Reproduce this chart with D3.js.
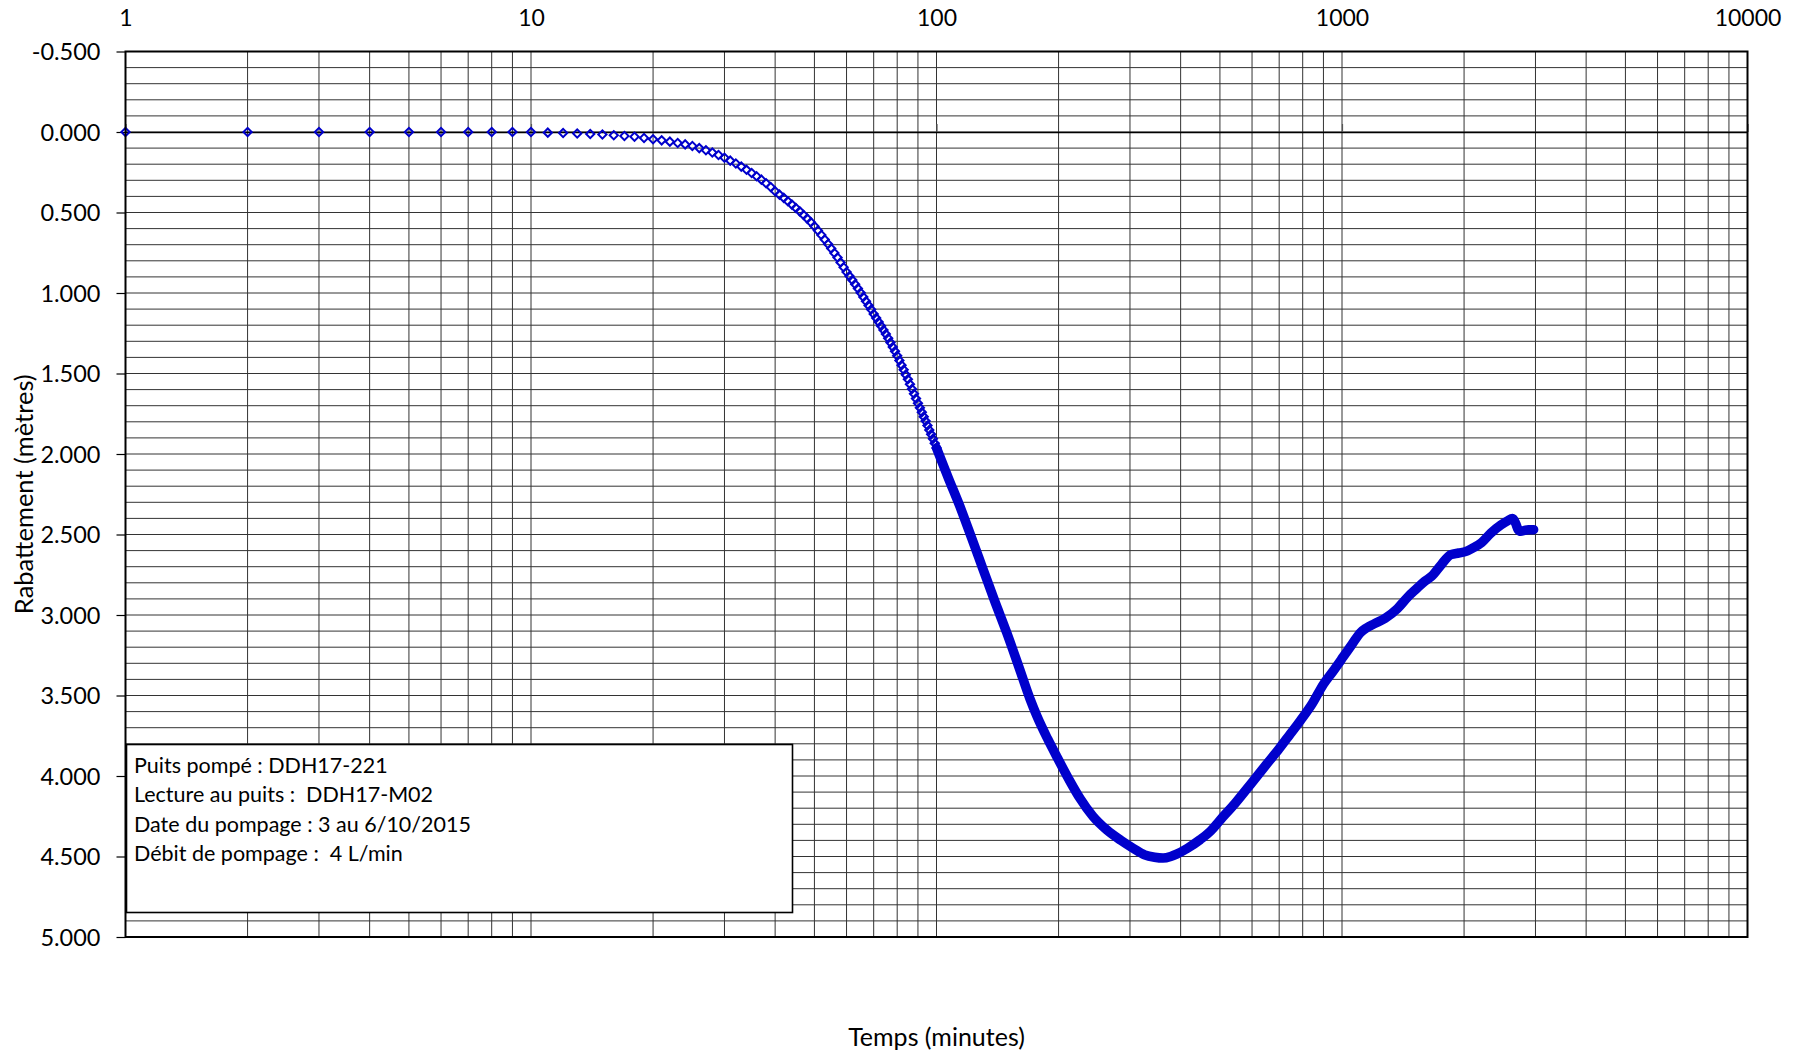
<!DOCTYPE html>
<html>
<head>
<meta charset="utf-8">
<script src="https://cdn.jsdelivr.net/npm/d3@7"></script>
<style>
  html, body { margin: 0; padding: 0; background: #fff; }
  svg { display: block; font-family: "Lato", "Liberation Sans", sans-serif; }
  .pre { white-space: pre; }
</style>
</head>
<body>
<svg id="chart" width="1805" height="1055"></svg>
<script>
// ---- Data ----
// Early readings, one per minute (distinct markers)
const times = [1,2,3,4,5,6,7,8,9,10,11,12,13,14,15,16,17,18,19,20,
  21,22,23,24,25,26,27,28,29,30,31,32,33,34,35,36,37,38,39,40,
  41,42,43,44,45,46,47,48,49,50,51,52,53,54,55,56,57,58,59,60,
  61,62,63,64,65,66,67,68,69,70,71,72,73,74,75,76,77,78,79,80,
  81,82,83,84,85,86,87,88,89,90,91,92,93,94,95,96,97,98,99,100];
const drawdown = [0,0,0,0,0,0,0,0,0,0,
  0.004,0.006,0.009,0.012,0.016,0.020,0.025,0.030,0.037,0.045,
  0.052,0.060,0.068,0.077,0.087,0.100,0.113,0.127,0.143,0.160,
  0.178,0.196,0.215,0.235,0.255,0.275,0.296,0.318,0.342,0.368,
  0.389,0.409,0.430,0.451,0.472,0.493,0.515,0.538,0.561,0.585,
  0.612,0.640,0.668,0.696,0.724,0.752,0.780,0.810,0.840,0.870,
  0.895,0.920,0.946,0.972,0.998,1.025,1.051,1.077,1.103,1.130,
  1.155,1.180,1.205,1.230,1.255,1.281,1.308,1.335,1.362,1.390,
  1.419,1.448,1.477,1.507,1.536,1.566,1.596,1.626,1.656,1.685,
  1.713,1.740,1.768,1.795,1.823,1.851,1.878,1.906,1.934,1.962];
// Later readings, where the markers merge into a continuous band
const bandTimes = [100,107,114,122,130,139,149,160,170,177,188,198,212,226,243,263,285,306,326,345,
  362,378,391,415,447,475,500,545,600,650,700,745,790,845,900,950,1007,1060,1110,1150,
  1200,1278,1370,1457,1522,1600,1663,1760,1855,1940,2024,2100,2209,2330,2467,2560,2634,2680,2720,2760,
  2820,2880,2969];
const bandDrawdown = [1.962,2.15,2.32,2.52,2.71,2.91,3.11,3.33,3.52,3.63,3.77,3.88,4.02,4.14,4.25,4.335,4.40,4.45,4.49,4.505,
  4.51,4.50,4.485,4.45,4.395,4.34,4.275,4.17,4.04,3.93,3.83,3.74,3.655,3.55,3.43,3.35,3.26,3.18,3.11,3.08,
  3.055,3.02,2.96,2.885,2.84,2.79,2.76,2.685,2.625,2.615,2.605,2.585,2.55,2.49,2.44,2.415,2.40,2.43,2.47,2.48,
  2.475,2.47,2.47];

const xTickValues = [1, 10, 100, 1000, 10000];
const yTickValues = [-0.5, 0, 0.5, 1, 1.5, 2, 2.5, 3, 3.5, 4, 4.5, 5];
const infoLines = [
  "Puits pompé : DDH17-221",
  "Lecture au puits :  DDH17-M02",
  "Date du pompage : 3 au 6/10/2015",
  "Débit de pompage :  4 L/min"
];
const xTitle = "Temps (minutes)";
const yTitle = "Rabattement (mètres)";

// ---- Layout ----
const L = 125.5, R = 1747.5, T = 51.5, B = 937;
const blue = "#0000cc";

const svg = d3.select("#chart");
const x = d3.scaleLog().domain([1, 10000]).range([L, R]);
const y = d3.scaleLinear().domain([-0.5, 5]).range([T, B]);

// Grid
const grid = svg.append("g");
const hVals = d3.range(-4, 50).map(i => i / 10);
grid.selectAll("line.h").data(hVals).join("line")
  .attr("x1", L).attr("x2", R)
  .attr("y1", d => y(d)).attr("y2", d => y(d))
  .attr("stroke", "#333").attr("stroke-width", 1);
const vVals = [];
[1, 10, 100, 1000].forEach(k => { for (let m = 2; m <= 10; m++) if (m * k < 10000) vVals.push(m * k); });
grid.selectAll("line.v").data(vVals).join("line")
  .attr("y1", T).attr("y2", B)
  .attr("x1", d => x(d)).attr("x2", d => x(d))
  .attr("stroke", "#333").attr("stroke-width", 1);

// X axis line at 0 with upward ticks
const xAxisLine = svg.append("g").attr("transform", `translate(0,${y(0)})`)
  .call(d3.axisTop(x).tickValues(xTickValues).tickSize(8).tickFormat("").tickSizeOuter(0));
xAxisLine.select(".domain").attr("stroke", "#000").attr("stroke-width", 1.4);
xAxisLine.selectAll(".tick line").attr("stroke", "#555").attr("stroke-width", 1.2);

// X tick labels on top
const xLab = svg.append("g").attr("transform", `translate(0,${T})`)
  .call(d3.axisTop(x).tickValues(xTickValues).tickSize(0).tickPadding(26).tickFormat(d3.format("d")));
xLab.select(".domain").remove();
xLab.selectAll("text").attr("font-size", 23).attr("fill", "#000").attr("font-family", "Lato");

// Y axis
const yAx = svg.append("g").attr("transform", `translate(${L},0)`)
  .call(d3.axisLeft(y).tickValues(yTickValues).tickSize(9).tickPadding(16)
    .tickFormat(d => d3.format(".3f")(d).replace("−", "-")));
yAx.select(".domain").remove();
yAx.selectAll(".tick line").attr("stroke", "#000").attr("stroke-width", 1.2);
yAx.selectAll("text").attr("font-size", 23.5).attr("fill", "#000").attr("dy", "0.36em").attr("font-family", "Lato");

// Data: merged band
const line = d3.line().x(d => x(d[0])).y(d => y(d[1])).curve(d3.curveMonotoneX);
svg.append("path")
  .datum(bandTimes.map((t, i) => [t, bandDrawdown[i]]))
  .attr("d", line)
  .attr("fill", "none").attr("stroke", blue).attr("stroke-width", 9.5)
  .attr("stroke-linejoin", "round").attr("stroke-linecap", "round");

// Data: markers
const diamond = d3.symbol().type(d3.symbolSquare).size(34);
svg.append("g").selectAll("path").data(times.map((t, i) => [t, drawdown[i]])).join("path")
  .attr("d", diamond)
  .attr("transform", d => `translate(${x(d[0])},${y(d[1])}) rotate(45)`)
  .attr("fill", "none").attr("stroke", blue).attr("stroke-width", 2);

// Plot border
svg.append("rect").attr("x", L).attr("y", T).attr("width", R - L).attr("height", B - T)
  .attr("fill", "none").attr("stroke", "#000").attr("stroke-width", 2);

// Info box
const box = svg.append("g");
box.append("rect").attr("x", 126.5).attr("y", 744.5).attr("width", 666).attr("height", 168)
  .attr("fill", "#fff").attr("stroke", "#000").attr("stroke-width", 1.6);
box.selectAll("text").data(infoLines).join("text")
  .attr("class", "pre")
  .attr("x", 134).attr("y", (d, i) => 772.5 + i * 29.5)
  .attr("font-size", 21.5).attr("fill", "#000").text(d => d);

// Axis titles
svg.append("text").attr("x", (L + R) / 2).attr("y", 1046).attr("text-anchor", "middle")
  .attr("font-size", 25).attr("fill", "#000").text(xTitle);
svg.append("text").attr("transform", `translate(33,${(T + B) / 2}) rotate(-90)`)
  .attr("text-anchor", "middle").attr("font-size", 25.5).attr("fill", "#000").text(yTitle);
</script>
</body>
</html>
